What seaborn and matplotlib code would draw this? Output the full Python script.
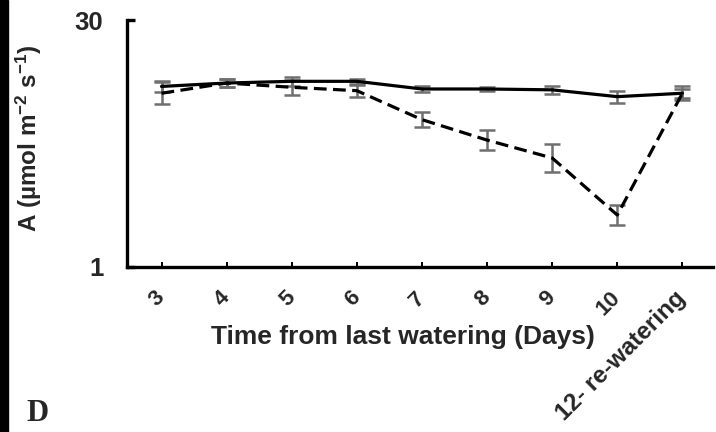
import numpy as np
import pandas as pd
import matplotlib
matplotlib.use("Agg")
import matplotlib.pyplot as plt
import seaborn as sns

# ---- data ----
categories = ["3", "4", "5", "6", "7", "8", "9", "10", "12- re-watering"]
control = [22.2, 22.6, 22.8, 22.8, 21.9, 21.9, 21.8, 21.0, 21.4]
control_err = [0.6, 0.5, 0.5, 0.3, 0.3, 0.2, 0.5, 0.7, 0.5]
drought = [21.4, 22.6, 22.1, 21.7, 18.3, 15.9, 13.8, 7.1, 21.4]
drought_err = [1.3, 0.5, 0.9, 0.7, 0.9, 1.2, 1.6, 1.2, 0.8]
y_ticks = [1, 30]

sns.set_theme(style="white")
plt.rcParams["font.family"] = ["Liberation Sans", "DejaVu Sans"]
plt.rcParams["font.weight"] = "bold"
plt.rcParams["mathtext.fontset"] = "custom"
plt.rcParams["mathtext.rm"] = "Liberation Sans:bold"
plt.rcParams["mathtext.bf"] = "Liberation Sans:bold"
plt.rcParams["mathtext.default"] = "bf"

pos = np.arange(len(categories))
df = pd.DataFrame({
    "pos": np.concatenate([pos, pos]),
    "A": control + drought,
    "treat": ["control"] * len(pos) + ["drought"] * len(pos),
})

fig = plt.figure(figsize=(7.16, 4.32), dpi=100)
fig.patch.set_facecolor("white")
ax = fig.add_axes([127 / 716, 1 - 267 / 432, 586 / 716, 247 / 432])

# error bars first (grey), lines on top
ax.errorbar(pos, control, yerr=control_err, fmt="none", ecolor="#6f6f6f",
            elinewidth=1.8, capsize=5.5, capthick=1.8, zorder=2)
ax.errorbar(pos, drought, yerr=drought_err, fmt="none", ecolor="#6f6f6f",
            elinewidth=1.8, capsize=5.5, capthick=1.8, zorder=2)

sns.lineplot(data=df, x="pos", y="A", hue="treat", style="treat",
             palette={"control": "black", "drought": "black"},
             dashes={"control": "", "drought": (4.0, 2.0)},
             linewidth=2.3, legend=False, ax=ax, zorder=3, errorbar=None)

ax.set_xlim(-0.53, 8.47)
ax.set_ylim(1, 30)
ax.set_yticks(y_ticks)
ax.set_yticklabels([str(t) for t in y_ticks], fontsize=18.5, fontweight="bold")
ax.set_xticks(pos)
ax.set_xticklabels(categories, rotation=45, ha="right", va="center",
                   rotation_mode="anchor", fontsize=16, fontweight="bold")
ax.get_xticklabels()[-1].set_fontsize(17.5)

for s in ["top", "right"]:
    ax.spines[s].set_visible(False)
for s in ["left", "bottom"]:
    ax.spines[s].set_color("black")
    ax.spines[s].set_linewidth(2.4)

ax.tick_params(axis="x", direction="in", length=3.5, width=1.4, color="black",
               pad=20, bottom=True)
ax.tick_params(axis="y", direction="in", length=6, width=2.4, color="black",
               pad=17, left=True)

ax.set_xlabel("Time from last watering (Days)", fontsize=19,
              fontweight="bold")
ax.xaxis.set_label_coords(0.471, -0.236)
ax.set_ylabel(r"A (µmol m$^{-2}$ s$^{-1}$)", fontsize=17.5, fontweight="bold")
ax.yaxis.set_label_coords(-0.142, 0.52)
ax.grid(False)

# left black strip and panel letter
fig.add_artist(plt.Rectangle((0, 0), 8 / 716, 1, transform=fig.transFigure,
                             color="black", zorder=0))
fig.text(26 / 716, 1 - 421 / 432, "D", fontsize=22, fontweight="bold",
         family=["Liberation Serif", "DejaVu Serif"], ha="left", va="baseline")

fig.savefig("out.png", dpi=100, facecolor="white")
